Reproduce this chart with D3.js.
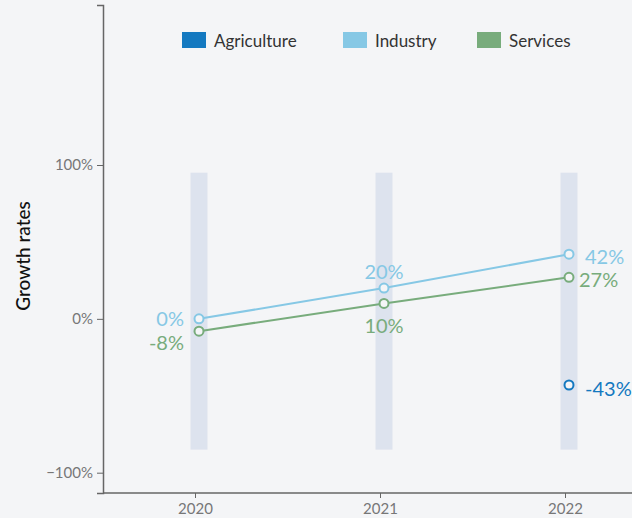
<!DOCTYPE html>
<html>
<head>
<meta charset="utf-8">
<script src="https://cdn.jsdelivr.net/npm/d3@7"></script>
<style>
  html, body { margin: 0; padding: 0; background: #f4f5f7; }
  svg { display: block; font-family: Lato, "Open Sans", sans-serif; }
</style>
</head>
<body>
<svg id="chart" width="632" height="518"></svg>
<script>
// Growth rates by sector, 2020–2022 (percent)
const years = ["2020", "2021", "2022"];
const seriesNames = ["Agriculture", "Industry", "Services"];
const agriculture = [null, null, -43];
const industry = [0, 20, 42];
const services = [-8, 10, 27];
const yTicks = [-100, 0, 100];
const seriesColors = ["#1479c0", "#86c8e5", "#78ac7c"];

const svg = d3.select("#chart");
const W = 632, H = 518;
const margin = { left: 103, top: 5, right: 0, bottom: 25 };

const x = d3.scalePoint().domain(years).range([195, 565]);
const y = d3.scaleLinear().domain([-113.2, 204]).range([H - margin.bottom, margin.top]);
const markShift = 4; // marks sit a little right of the year ticks

// vertical background bands per year
svg.append("g").selectAll("rect").data(years).join("rect")
  .attr("x", d => x(d) + markShift - 8.5)
  .attr("width", 17)
  .attr("y", y(95))
  .attr("height", y(-85) - y(95))
  .attr("fill", "#dde3ee");

// axes
const yAxis = svg.append("g")
  .attr("transform", `translate(${margin.left},0)`)
  .call(d3.axisLeft(y).tickValues(yTicks).tickFormat(d => (d < 0 ? "\u2212" + Math.abs(d) : d) + "%").tickSizeOuter(0).tickSize(6).tickPadding(4));
const xAxis = svg.append("g")
  .attr("transform", `translate(0,${H - margin.bottom})`)
  .call(d3.axisBottom(x).tickSizeOuter(0).tickSize(5).tickPadding(5));
xAxis.select(".domain").attr("d", `M${margin.left},0H${W}`);
[yAxis, xAxis].forEach(g => {
  g.select(".domain").attr("stroke", "#666").attr("stroke-width", 1.5);
  g.selectAll(".tick line").attr("stroke", "#666");
  g.selectAll(".tick text").attr("fill", "#777").attr("font-size", 15)
    .attr("font-family", "Lato, sans-serif");
});

// y-axis title
svg.append("text")
  .attr("transform", `translate(22,${256}) rotate(-90)`)
  .attr("text-anchor", "middle")
  .attr("dominant-baseline", "central")
  .attr("font-size", 19)
  .attr("font-weight", 500)
  .attr("fill", "#111")
  .text("Growth rates");

// series lines and points
const allSeries = [agriculture, industry, services];
const line = d3.line()
  .defined(d => d.v !== null)
  .x(d => x(d.year) + markShift)
  .y(d => y(d.v));

const labelPlacement = {
  Industry: [
    { dx: -15, dy: -1, anchor: "end" },
    { dx: 0, dy: -17, anchor: "middle" },
    { dx: 16, dy: 1.5, anchor: "start" }
  ],
  Services: [
    { dx: -15, dy: 10.5, anchor: "end" },
    { dx: 0, dy: 22, anchor: "middle" },
    { dx: 10, dy: 2, anchor: "start" }
  ],
  Agriculture: [null, null, { dx: 16, dy: 2.5, anchor: "start" }]
};

seriesNames.forEach((name, i) => {
  const color = seriesColors[i];
  const pts = years.map((yr, j) => ({ year: yr, v: allSeries[i][j] }));
  const g = svg.append("g");
  g.append("path")
    .datum(pts)
    .attr("d", line)
    .attr("fill", "none")
    .attr("stroke", color)
    .attr("stroke-width", 2);
  const valid = pts.map((p, j) => ({ ...p, j })).filter(p => p.v !== null);
  g.selectAll("circle").data(valid).join("circle")
    .attr("cx", d => x(d.year) + markShift)
    .attr("cy", d => y(d.v))
    .attr("r", 4.5)
    .attr("fill", "#f4f5f7")
    .attr("stroke", color)
    .attr("stroke-width", 2);
  g.selectAll("text").data(valid).join("text")
    .attr("x", d => x(d.year) + markShift + labelPlacement[name][d.j].dx)
    .attr("y", d => y(d.v) + labelPlacement[name][d.j].dy)
    .attr("text-anchor", d => labelPlacement[name][d.j].anchor)
    .attr("dominant-baseline", "central")
    .attr("font-size", 20)
    .attr("fill", color)
    .text(d => (d.v < 0 ? "-" + Math.abs(d.v) : d.v) + "%");
});

// legend
const legendX = [182, 343, 477];
const legend = svg.append("g").selectAll("g").data(seriesNames).join("g")
  .attr("transform", (d, i) => `translate(${legendX[i]},32)`);
legend.append("rect")
  .attr("width", 24).attr("height", 16)
  .attr("fill", (d, i) => seriesColors[i]);
legend.append("text")
  .attr("x", 32).attr("y", 8)
  .attr("dominant-baseline", "central")
  .attr("font-size", 17)
  .attr("fill", "#333")
  .text(d => d);
</script>
</body>
</html>
